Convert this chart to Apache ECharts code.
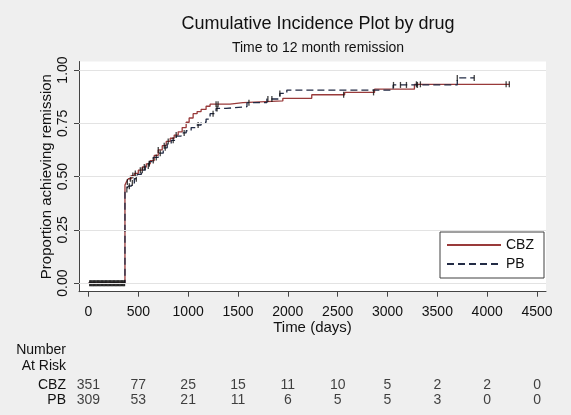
<!DOCTYPE html>
<html>
<head>
<meta charset="utf-8">
<script src="https://cdn.jsdelivr.net/npm/echarts@6/dist/echarts.min.js"></script>
<style>
html,body{margin:0;padding:0;background:#efefef;}
#chart{width:571px;height:415px;}
</style>
</head>
<body>
<div id="chart"></div>
<script>
// ---- data ----
var cbzTimes = [0, 366, 380, 400, 430, 460, 500, 540, 580, 620, 660, 700, 740, 780, 820, 860, 900, 940, 980, 1010, 1050, 1090, 1130, 1180, 1220, 1420, 1550, 1950, 2240, 2570, 2870, 3270, 4222];
var cbzVals  = [0, 0.46, 0.475, 0.49, 0.505, 0.515, 0.53, 0.545, 0.56, 0.575, 0.60, 0.625, 0.645, 0.665, 0.68, 0.695, 0.71, 0.73, 0.755, 0.775, 0.795, 0.805, 0.815, 0.83, 0.84, 0.847, 0.855, 0.867, 0.884, 0.895, 0.91, 0.933, 0.933];
var pbTimes  = [0, 366, 380, 400, 430, 460, 490, 530, 570, 610, 650, 700, 750, 790, 830, 880, 930, 980, 1030, 1080, 1130, 1180, 1220, 1280, 1380, 1590, 1790, 1920, 1990, 3057, 3700, 3870];
var pbVals   = [0, 0.43, 0.44, 0.455, 0.47, 0.49, 0.51, 0.53, 0.55, 0.57, 0.59, 0.61, 0.635, 0.655, 0.67, 0.69, 0.705, 0.715, 0.73, 0.742, 0.755, 0.77, 0.795, 0.82, 0.828, 0.847, 0.864, 0.89, 0.906, 0.93, 0.963, 0.963];
var cbzCensor = [12, 28, 44, 60, 76, 92, 108, 124, 140, 156, 172, 188, 204, 220, 236, 252, 268, 284, 300, 316, 332, 348, 362,
                 390, 420, 445, 470, 520, 560, 610, 650, 700, 760, 800, 880, 1280, 1300, 2560, 2860, 3290, 3330, 4190, 4222];
var pbCensor  = [20, 36, 52, 68, 84, 100, 116, 132, 148, 164, 180, 196, 212, 228, 244, 260, 276, 292, 308, 324, 340, 356,
                 385, 410, 440, 480, 540, 600, 680, 720, 770, 850, 960, 1100, 1250, 1290, 1610, 1800, 1840, 1920, 3060, 3130, 3190, 3300, 3700, 3870];
var xTicks = [0, 500, 1000, 1500, 2000, 2500, 3000, 3500, 4000, 4500];
var yTicks = [0, 0.25, 0.5, 0.75, 1];
var riskCBZ = [351, 77, 25, 15, 11, 10, 5, 2, 2, 0];
var riskPB  = [309, 53, 21, 11, 6, 5, 5, 3, 0, 0];

// ---- helpers ----
function pairs(ts, vs) { return ts.map(function (t, i) { return [t, vs[i]]; }); }
function stepAt(ts, vs, t) {
  var v = vs[0];
  for (var i = 0; i < ts.length; i++) { if (ts[i] <= t) v = vs[i]; }
  return v;
}
function censorPts(cs, ts, vs) { return cs.map(function (t) { return [t, stepAt(ts, vs, t)]; }); }
function riskPts(vals, grp) { return xTicks.map(function (t, i) { return [t, grp, vals[i]]; }); }

var FONT = 'Liberation Sans';
var TXT = '#111';
var chart = echarts.init(document.getElementById('chart'), null, {renderer: 'canvas'});

chart.setOption({
  backgroundColor: '#efefef',
  animation: false,
  textStyle: {fontFamily: FONT},
  title: {
    text: 'Cumulative Incidence Plot by drug',
    subtext: 'Time to 12 month remission',
    left: 313, textAlign: 'center', top: 10, itemGap: 8,
    textStyle: {fontFamily: FONT, fontSize: 18, fontWeight: 'normal', color: TXT},
    subtextStyle: {fontFamily: FONT, fontSize: 14, color: TXT}
  },
  legend: {
    data: ['CBZ', 'PB'],
    orient: 'vertical',
    left: 440, top: 232,
    backgroundColor: '#fff', borderColor: '#404040', borderWidth: 1,
    padding: [6, 10, 7, 6], itemGap: 5, itemWidth: 54, itemHeight: 13,
    textStyle: {fontFamily: FONT, fontSize: 14, color: TXT},
    itemStyle: {opacity: 0},
    selectedMode: false
  },
  grid: [
    {left: 79, right: 25, top: 61.5, bottom: 123.3, containLabel: false, outerBoundsMode: 'none', show: true, backgroundColor: '#fff', borderWidth: 0},
    {left: 79, right: 25, top: 378, height: 30, containLabel: false, outerBoundsMode: 'none'}
  ],
  xAxis: [
    {
      type: 'value', gridIndex: 0, min: -95, max: 4590,
      axisLine: {show: true, onZero: false, lineStyle: {color: '#444', width: 1}},
      axisTick: {show: true, length: 5, customValues: xTicks, lineStyle: {color: '#444'}},
      axisLabel: {customValues: xTicks, fontSize: 14, color: TXT, margin: 13, fontFamily: FONT,
                  formatter: function (v) { return String(v); }},
      splitLine: {show: false},
      name: 'Time (days)', nameLocation: 'middle', nameGap: 29, nameMoveOverlap: false,
      nameTextStyle: {fontSize: 15, color: TXT, fontFamily: FONT}
    },
    {
      type: 'value', gridIndex: 1, min: -95, max: 4590, show: false
    }
  ],
  yAxis: [
    {
      type: 'value', gridIndex: 0, min: -0.04, max: 1.04,
      axisLine: {show: true, onZero: false, lineStyle: {color: '#444', width: 1}},
      axisTick: {show: true, length: 5, customValues: yTicks, lineStyle: {color: '#444'}},
      axisLabel: {customValues: yTicks, rotate: 90, fontSize: 14, color: TXT, margin: 9, fontFamily: FONT,
                  formatter: function (v) { return v.toFixed(2); }},
      splitLine: {show: false},
      name: 'Proportion achieving remission', nameLocation: 'middle', nameGap: 25, nameRotate: 90,
      nameMoveOverlap: false,
      nameTextStyle: {fontSize: 15, color: TXT, fontFamily: FONT}
    },
    {
      type: 'category', gridIndex: 1, data: ['CBZ', 'PB'], inverse: true,
      axisLine: {show: false}, axisTick: {show: false}, splitLine: {show: false},
      axisLabel: {interval: 0, fontSize: 14, color: TXT, margin: 13, fontFamily: FONT}
    }
  ],
  graphic: [
    {type: 'text', right: 571 - 66, top: 343, style: {text: 'Number', fontSize: 14, fontFamily: FONT, fill: TXT, textAlign: 'right'}},
    {type: 'text', right: 571 - 66, top: 359, style: {text: 'At Risk', fontSize: 14, fontFamily: FONT, fill: TXT, textAlign: 'right'}}
  ],
  series: [
    {
      name: 'grid', type: 'line', xAxisIndex: 0, yAxisIndex: 0, data: [], silent: true,
      markLine: {
        silent: true, symbol: 'none', label: {show: false},
        lineStyle: {color: '#e3e3e3', width: 1, type: 'solid'},
        data: yTicks.map(function (v) { return {yAxis: v}; })
      },
      z: 1
    },
    {
      name: 'CBZ', type: 'line', step: 'end', xAxisIndex: 0, yAxisIndex: 0,
      data: pairs(cbzTimes, cbzVals), symbol: 'none', showSymbol: false,
      lineStyle: {color: '#993a3a', width: 1.3, type: 'solid'},
      itemStyle: {color: '#993a3a'}, z: 3
    },
    {
      name: 'PB', type: 'line', step: 'end', xAxisIndex: 0, yAxisIndex: 0,
      data: pairs(pbTimes, pbVals), symbol: 'none', showSymbol: false,
      lineStyle: {color: '#222b45', width: 1.3, type: [7, 4]},
      itemStyle: {color: '#222b45'}, z: 3
    },
    {
      name: 'CBZ censored', type: 'scatter', xAxisIndex: 0, yAxisIndex: 0,
      data: censorPts(cbzCensor, cbzTimes, cbzVals),
      symbol: 'rect', symbolSize: [1.3, 6], itemStyle: {color: '#111'}, silent: true, z: 4
    },
    {
      name: 'PB censored', type: 'scatter', xAxisIndex: 0, yAxisIndex: 0,
      data: censorPts(pbCensor, pbTimes, pbVals),
      symbol: 'rect', symbolSize: [1.3, 6], itemStyle: {color: '#111'}, silent: true, z: 4
    },
    {
      name: 'risk CBZ', type: 'scatter', xAxisIndex: 1, yAxisIndex: 1,
      data: riskPts(riskCBZ, 'CBZ'), symbolSize: 0, silent: true,
      label: {show: true, position: 'inside', fontSize: 14, color: TXT, fontFamily: FONT,
              formatter: function (p) { return String(p.value[2]); }}
    },
    {
      name: 'risk PB', type: 'scatter', xAxisIndex: 1, yAxisIndex: 1,
      data: riskPts(riskPB, 'PB'), symbolSize: 0, silent: true,
      label: {show: true, position: 'inside', fontSize: 14, color: TXT, fontFamily: FONT,
              formatter: function (p) { return String(p.value[2]); }}
    }
  ]
});
</script>
</body>
</html>
